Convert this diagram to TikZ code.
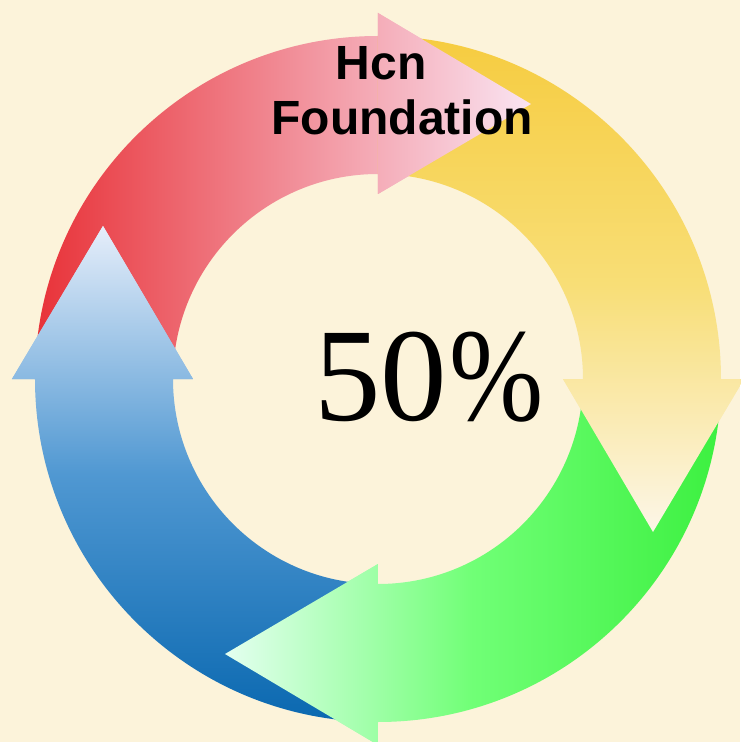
\documentclass[tikz,border=0pt]{standalone}
\usepackage{fontspec}
\setmainfont{Liberation Serif}
\setsansfont{Liberation Sans}
\usepackage{graphicx}
\usetikzlibrary{calc}
\definecolor{BackClr}{RGB}{252,243,218}
\definecolor{RedClr}{RGB}{232,50,56}
\definecolor{PinkClr}{RGB}{250,228,242}
\definecolor{YelClr}{RGB}{246,204,64}
\definecolor{YelMidClr}{RGB}{248,222,118}
\definecolor{PaleYelClr}{RGB}{252,246,232}
\definecolor{GrnClr}{RGB}{60,240,64}
\definecolor{GrnMidClr}{RGB}{112,255,118}
\definecolor{PaleGrnClr}{RGB}{228,255,240}
\definecolor{BluClr}{RGB}{10,104,176}
\definecolor{BluMidClr}{RGB}{80,152,210}
\definecolor{PaleBluClr}{RGB}{230,238,250}
\def\Rout{343}
\def\Rin{205}
\def\Rmid{275}
\def\Rhout{366}
\def\Rhin{185}
\def\Hlen{153}

\begin{document}
\begin{tikzpicture}[x=1pt,y=1pt,
  ringarrow/.style={insert path={(#1+90:\Rout) arc[start angle=#1+90,end angle=#1,radius=\Rout]
    -- (#1:\Rhout) -- ($(#1:\Rmid)+(#1-90:\Hlen)$) -- (#1:\Rhin) -- (#1:\Rin)
    arc[start angle=#1,end angle=#1+90,radius=\Rin] -- cycle}},
  arrowhead/.style={insert path={(#1:\Rhout) -- ($(#1:\Rmid)+(#1-90:\Hlen)$) -- (#1:\Rhin) -- cycle}},
  redshade/.style={left color=RedClr,right color=PinkClr},
  yelshade/.style={top color=YelClr,bottom color=PaleYelClr,middle color=YelMidClr},
  grnshade/.style={right color=GrnClr,left color=PaleGrnClr,middle color=GrnMidClr},
  blushade/.style={bottom color=BluClr,top color=PaleBluClr,middle color=BluMidClr},
  label/.style={anchor=base,font=\fontsize{48}{48}\selectfont\sffamily\bfseries}]
\fill[BackClr] (-378,-363) rectangle (362,379);
\useasboundingbox (-378,-363) rectangle (362,379);

% the four bodies
\shade[redshade,ringarrow=90];
\shade[yelshade,ringarrow=0];
\shade[grnshade,ringarrow=-90];
\shade[blushade,ringarrow=180];

% heads again, on top of the next tail
\begin{scope}
\path[clip,arrowhead=90];
\shade[redshade,ringarrow=90];
\end{scope}
\begin{scope}
\path[clip,arrowhead=0];
\shade[yelshade,ringarrow=0];
\end{scope}
\begin{scope}
\path[clip,arrowhead=-90];
\shade[grnshade,ringarrow=-90];
\end{scope}
\begin{scope}
\path[clip,arrowhead=180];
\shade[blushade,ringarrow=180];
\end{scope}

\node[label] (hcn) at (3,299) {Hcn};
\node[label] (found) at (24,244) {Foundation};
\node[anchor=base,font=\fontsize{133}{133}\selectfont] (pct) at (51,-41) {50\kern2pt\scalebox{0.85}[1]{\%}};
\end{tikzpicture}
\end{document}
